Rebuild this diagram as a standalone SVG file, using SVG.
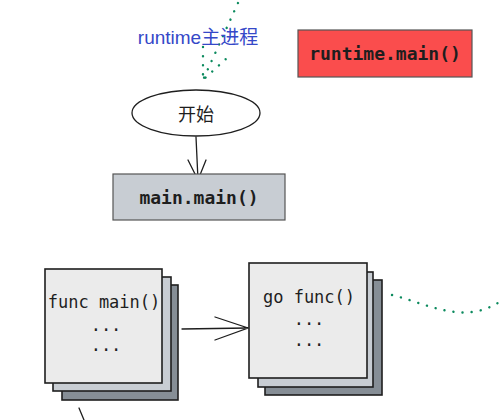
<svg xmlns="http://www.w3.org/2000/svg" width="504" height="420" viewBox="0 0 504 420">
<style>
.mono{font-family:"DejaVu Sans Mono","Liberation Mono",monospace;fill:#1e1e1e;text-anchor:middle;dominant-baseline:central}
.b{font-weight:bold;font-size:18px}
.r{font-size:17px}
.ln{fill:none;stroke:#1e1e1e;stroke-width:1.3;stroke-linecap:round}
.dot{fill:none;stroke:#0c8a5e;stroke-width:2.4;stroke-linecap:round;stroke-dasharray:0.1 9}
.card{stroke:#1e1e1e;stroke-width:1.6}
</style>
<rect width="504" height="420" fill="#ffffff"/>
<g id="connectors">
<path class="dot" d="M238 3 L203 80"/>
<path class="dot" d="M203 47 L203 80 L227 58"/>
<path class="ln" d="M196 137 L198 180 M188 160 L198 180 L206 160"/>
<path class="ln" d="M182 329 L248 328 M215 317 L248 328 L215 340"/>
<path class="dot" d="M392 295 C420 302 445 315 472 312 C488 310 498 303 504 299"/>
<path class="ln" d="M79 408 L84 420"/>
</g>
<g id="label-runtime">
<text x="198" y="44" font-family="'Liberation Sans','Noto Sans CJK SC',sans-serif" font-size="19" fill="#3548c8" text-anchor="middle">runtime主进程</text>
</g>
<g id="node-start">
<ellipse cx="196" cy="113" rx="64" ry="23" fill="#ffffff" stroke="#1e1e1e" stroke-width="1.3"/>
<text x="196" y="113" font-family="'Noto Sans CJK SC',sans-serif" font-size="18" fill="#1e1e1e" text-anchor="middle" dominant-baseline="central">开始</text>
</g>
<g id="node-main-main">
<rect x="113" y="174" width="172" height="46" fill="#c8cdd3" stroke="#555" stroke-width="1.2"/>
<text class="mono b" x="199" y="197">main.main()</text>
</g>
<g id="node-runtime-main">
<rect x="298" y="30" width="174" height="47" fill="#fa4d4d" stroke="#555" stroke-width="1.2"/>
<text class="mono b" x="385" y="53">runtime.main()</text>
</g>
<g id="node-func-main">
<rect class="card" x="62" y="285" width="116" height="115" fill="#868e96"/>
<rect class="card" x="53" y="277" width="118" height="114" fill="#c8cdd3"/>
<rect class="card" x="45" y="269" width="117" height="114" fill="#ebebeb"/>
<text class="mono r" x="104" y="302">func main()</text>
<text class="mono r" x="106" y="325">...</text>
<text class="mono r" x="106" y="345">...</text>
</g>
<g id="node-go-func">
<rect class="card" x="265" y="280" width="117" height="115" fill="#868e96"/>
<rect class="card" x="258" y="272" width="115" height="115" fill="#c8cdd3"/>
<rect class="card" x="249" y="263" width="118" height="115" fill="#ebebeb"/>
<text class="mono r" x="309" y="297">go func()</text>
<text class="mono r" x="309" y="319">...</text>
<text class="mono r" x="309" y="340">...</text>
</g>
</svg>
